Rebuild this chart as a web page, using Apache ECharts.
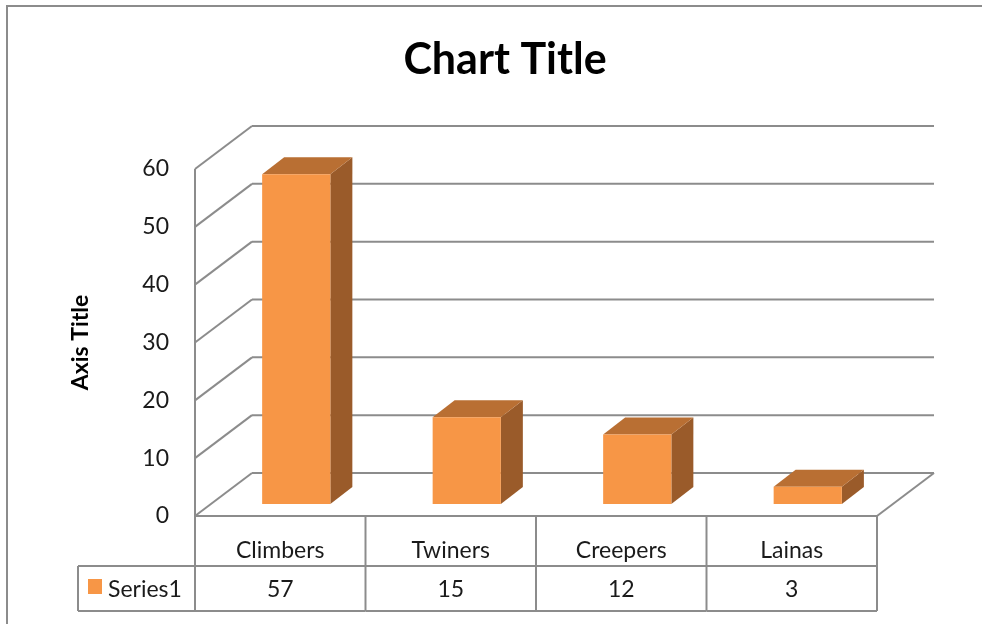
<!DOCTYPE html>
<html>
<head>
<meta charset="utf-8">
<script src="https://cdn.jsdelivr.net/npm/echarts@6/dist/echarts.min.js"></script>
<style>
  html, body { margin: 0; padding: 0; background: #fff; }
  #chart { width: 982px; height: 624px; }
</style>
</head>
<body>
<div id="chart"></div>
<script>
// Data
const categories = ['Climbers', 'Twiners', 'Creepers', 'Lainas'];
const values = [57, 15, 12, 3];
const seriesName = 'Series1';
const yTicks = [0, 10, 20, 30, 40, 50, 60];

// Style
const FONT = 'Lato, "Open Sans", sans-serif';
const TEXT = '#1a1a1a';
const LINE = '#8c8c8c';
const FACE = '#F79646';
const TOPFACE = '#B96F33';
const SIDEFACE = '#9A5B2A';
const WALL = [57, -43];       // back wall offset from the front plane
const BAR_OFF = [16, -12];    // bar front face offset from the front plane
const BAR_DEPTH = [22, -17];  // bar depth
const BAR_W = 0.4;            // bar width as a share of the category band
const ROW1 = 50;              // category row height of the data table
const ROW2 = 45;              // value row height
const LEGEND_LEFT = 78;

const chart = echarts.init(document.getElementById('chart'));

function seg(x1, y1, x2, y2) {
  return { type: 'line', shape: { x1, y1, x2, y2 },
           style: { stroke: LINE, lineWidth: 2 } };
}

// walls and gridlines of the 3D frame
function renderWalls(params, api) {
  const cs = params.coordSys;
  const x0 = cs.x, x1 = cs.x + cs.width;
  const v = api.value(1);
  const y = api.coord([0, v])[1];
  const kids = [
    seg(x0, y, x0 + WALL[0], y + WALL[1]),
    seg(x0 + WALL[0], y + WALL[1], x1 + WALL[0], y + WALL[1])
  ];
  if (v === yTicks[0]) {
    kids.push(seg(x1, y, x1 + WALL[0], y + WALL[1]));
    kids.push(seg(x0, y, x1, y));
  }
  if (v === yTicks[yTicks.length - 1]) {
    const yb = api.coord([0, yTicks[0]])[1];
    kids.push(seg(x0, y, x0, yb));
  }
  return { type: 'group', children: kids };
}

// 3D bars: front, top and side faces
function renderBar(params, api) {
  const i = api.value(0), v = api.value(1);
  const base = api.coord([i, 0]);
  const top = api.coord([i, v]);
  const w = api.size([1, 0])[0] * BAR_W;
  const xl = base[0] - w / 2 + BAR_OFF[0], xr = xl + w;
  const yb = base[1] + BAR_OFF[1], yt = top[1] + BAR_OFF[1];
  const dx = BAR_DEPTH[0], dy = BAR_DEPTH[1];
  return {
    type: 'group',
    children: [
      { type: 'polygon', shape: { points: [[xr, yt], [xr + dx, yt + dy], [xr + dx, yb + dy], [xr, yb]] },
        style: { fill: SIDEFACE } },
      { type: 'polygon', shape: { points: [[xl, yt], [xl + dx, yt + dy], [xr + dx, yt + dy], [xr, yt]] },
        style: { fill: TOPFACE } },
      { type: 'polygon', shape: { points: [[xl, yt], [xr, yt], [xr, yb], [xl, yb]] },
        style: { fill: FACE } }
    ]
  };
}

// data table under the plot
function renderTable(params, api) {
  const cs = params.coordSys;
  const i = api.value(0), v = api.value(1);
  const p = api.coord([i, 0]);
  const band = api.size([1, 0])[0];
  const y0 = p[1], y1 = y0 + ROW1, y2 = y1 + ROW2;
  const xl = p[0] - band / 2, xr = p[0] + band / 2;
  const kids = [
    seg(xr, y0, xr, y2),
    seg(xl, y1, xr, y1),
    seg(xl, y2, xr, y2),
    { type: 'text', style: { text: String(v), x: p[0], y: (y1 + y2) / 2 + 1,
      align: 'center', verticalAlign: 'middle', font: '23px ' + FONT, fill: TEXT } }
  ];
  if (i === 0) {
    kids.push(seg(cs.x, y0, cs.x, y2));
    kids.push(seg(LEGEND_LEFT, y1, cs.x, y1));
    kids.push(seg(LEGEND_LEFT, y2, cs.x, y2));
    kids.push(seg(LEGEND_LEFT, y1, LEGEND_LEFT, y2));
    kids.push({ type: 'rect', shape: { x: LEGEND_LEFT + 10, y: y1 + 13, width: 14, height: 15 },
      style: { fill: FACE } });
    kids.push({ type: 'text', style: { text: seriesName, x: LEGEND_LEFT + 30, y: (y1 + y2) / 2 + 1,
      align: 'left', verticalAlign: 'middle', font: '23px ' + FONT, fill: TEXT } });
  }
  return { type: 'group', children: kids };
}

chart.setOption({
  animation: false,
  backgroundColor: '#fff',
  title: {
    text: 'Chart Title', left: 500, top: 34, textAlign: 'center',
    textStyle: { fontFamily: FONT, fontSize: 43, fontWeight: 'bold', color: '#000' }
  },
  graphic: [{
    type: 'rect', shape: { x: 7, y: 6, width: 990, height: 640 },
    style: { fill: null, stroke: '#8c8c8c', lineWidth: 2 }, silent: true, z: -1
  }],
  grid: { left: 195, right: 105, top: 169, bottom: 108 },
  xAxis: {
    type: 'category', data: categories, boundaryGap: true,
    axisLine: { show: false }, axisTick: { show: false },
    axisLabel: { margin: 35, verticalAlign: 'middle', fontFamily: FONT, fontSize: 23, color: TEXT }
  },
  yAxis: {
    type: 'value', min: 0, max: 60, interval: 10,
    name: 'Axis Title', nameLocation: 'middle', nameGap: 103, nameRotate: 90,
    nameTextStyle: { fontFamily: FONT, fontSize: 23, fontWeight: 'bold', color: '#000' },
    axisLine: { show: false }, axisTick: { show: false }, splitLine: { show: false },
    axisLabel: { margin: 26, fontFamily: FONT, fontSize: 23, color: TEXT }
  },
  series: [
    { type: 'custom', name: 'walls', renderItem: renderWalls, silent: true, z: 1,
      encode: { x: 0, y: 1 }, data: yTicks.map(v => [0, v]) },
    { type: 'custom', name: seriesName, renderItem: renderBar, z: 3,
      encode: { x: 0, y: 1 }, data: values.map((v, i) => [i, v]) },
    { type: 'custom', name: 'table', renderItem: renderTable, silent: true, z: 2,
      encode: { x: 0, y: 1 }, data: values.map((v, i) => [i, v]) }
  ]
});
</script>
</body>
</html>
